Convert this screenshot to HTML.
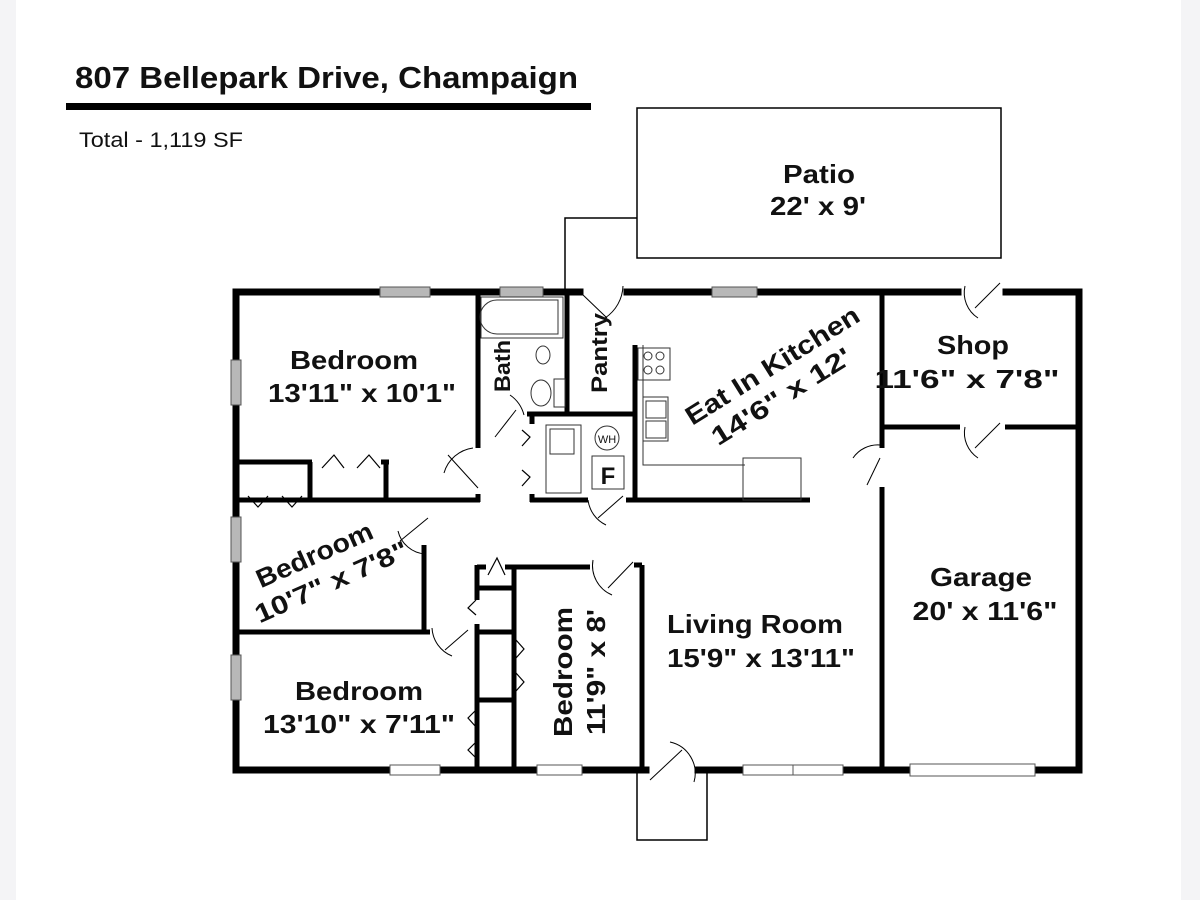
<!DOCTYPE html>
<html><head><meta charset="utf-8"><style>
html,body{margin:0;padding:0;background:#f4f4f6;}
svg{display:block;}
text{font-family:"Liberation Sans",Arial,sans-serif;font-weight:bold;fill:#111;}
</style></head><body>
<svg width="1200" height="900" viewBox="0 0 1200 900" xmlns="http://www.w3.org/2000/svg">
<rect x="0" y="0" width="1200" height="900" fill="#f4f4f6"/>
<rect x="16" y="0" width="1165" height="900" fill="#fff"/>
<text x="75" y="88" font-size="31" style="font-family:'Liberation Sans Narrow','Liberation Sans',sans-serif" textLength="503" lengthAdjust="spacingAndGlyphs">807 Bellepark Drive, Champaign</text>
<rect x="66" y="103" width="525" height="7" fill="#000"/>
<text x="79" y="147" font-size="21" style="font-weight:normal;font-family:'Liberation Sans Narrow','Liberation Sans',sans-serif" textLength="164" lengthAdjust="spacingAndGlyphs">Total - 1,119 SF</text>

<g fill="none" stroke="#000" stroke-width="1.5">
<rect x="637" y="108" width="364" height="150"/>
<polyline points="565,290 565,218 637,218"/>
<polyline points="637,772 637,840 707,840 707,772"/>
</g>

<g stroke="#000" stroke-width="7" fill="none" stroke-linecap="square">
<line x1="236" y1="292" x2="580" y2="292"/>
<line x1="627" y1="292" x2="958" y2="292"/>
<line x1="1006" y1="292" x2="1079" y2="292"/>
<line x1="236" y1="292" x2="236" y2="770"/>
<line x1="1079" y1="292" x2="1079" y2="770"/>
<line x1="236" y1="770" x2="646" y2="770"/>
<line x1="698" y1="770" x2="1079" y2="770"/>
</g>
<g stroke="#000" stroke-width="5" fill="none">
<line x1="478" y1="292" x2="478" y2="448"/>
<line x1="478" y1="494" x2="478" y2="502"/>
<line x1="238" y1="500" x2="480" y2="500"/>
<line x1="238" y1="462" x2="312" y2="462"/>
<line x1="310" y1="462" x2="310" y2="500"/>
<line x1="386" y1="460" x2="386" y2="500"/>
<line x1="381" y1="462" x2="389" y2="462"/>
<line x1="567" y1="292" x2="567" y2="414"/>
<line x1="527" y1="414" x2="636" y2="414"/>
<line x1="532" y1="414" x2="532" y2="424"/>
<line x1="532" y1="494" x2="532" y2="502"/>
<line x1="530" y1="500" x2="588" y2="500"/>
<line x1="626" y1="500" x2="810" y2="500"/>
<line x1="635" y1="345" x2="635" y2="500"/>
<line x1="882" y1="292" x2="882" y2="448"/>
<line x1="882" y1="487" x2="882" y2="770"/>
<line x1="882" y1="427" x2="960" y2="427"/>
<line x1="1005" y1="427" x2="1079" y2="427"/>
<line x1="424" y1="545" x2="424" y2="634"/>
<line x1="238" y1="632" x2="430" y2="632"/>
<line x1="477" y1="565" x2="477" y2="600"/>
<line x1="477" y1="624" x2="477" y2="770"/>
<line x1="514" y1="565" x2="514" y2="770"/>
<line x1="477" y1="567" x2="486" y2="567"/>
<line x1="505" y1="567" x2="590" y2="567"/>
<line x1="477" y1="588" x2="514" y2="588"/>
<line x1="477" y1="632" x2="514" y2="632"/>
<line x1="477" y1="700" x2="514" y2="700"/>
<line x1="634" y1="565" x2="642" y2="565"/>
<line x1="642" y1="565" x2="642" y2="770"/>
</g>
<g fill="#b8b8b8" stroke="#555" stroke-width="1">
<rect x="380" y="287" width="50" height="10"/>
<rect x="500" y="287" width="43" height="10"/>
<rect x="712" y="287" width="45" height="10"/>
<rect x="231" y="360" width="10" height="45"/>
<rect x="231" y="517" width="10" height="45"/>
<rect x="231" y="655" width="10" height="45"/>
</g>
<g fill="#fff" stroke="#555" stroke-width="1">
<rect x="390" y="765" width="50" height="10"/>
<rect x="537" y="765" width="45" height="10"/>
<rect x="743" y="765" width="50" height="10"/>
<rect x="793" y="765" width="50" height="10"/>
<rect x="910" y="764" width="125" height="12"/>
</g>
<g stroke="#000" stroke-width="1" fill="none">
<line x1="582" y1="294" x2="607" y2="318"/><path d="M605 318 A 40 40 0 0 0 623 286"/>
<line x1="1000" y1="283" x2="975" y2="308"/><path d="M965 286 A 30 30 0 0 0 978 318"/>
<line x1="1000" y1="423" x2="975" y2="448"/><path d="M965 427 A 30 30 0 0 0 978 458"/>
<line x1="880" y1="458" x2="867" y2="485"/><path d="M853 458 A 30 30 0 0 1 880 445"/>
<line x1="448" y1="455" x2="478" y2="488"/><path d="M444 473 A 35 35 0 0 1 473 448"/>
<line x1="516" y1="410" x2="495" y2="437"/><path d="M510 395 A 35 35 0 0 1 524 415"/>
<line x1="623" y1="496" x2="598" y2="518"/><path d="M588 500 A 32 32 0 0 0 606 525"/>
<line x1="428" y1="518" x2="400" y2="541"/><path d="M398 531 A 30 30 0 0 0 425 554"/>
<line x1="468" y1="630" x2="445" y2="650"/><path d="M432 628 A 32 32 0 0 0 452 656"/>
<line x1="633" y1="562" x2="608" y2="588"/><path d="M593 560 A 32 32 0 0 0 612 595"/>
<line x1="650" y1="780" x2="682" y2="750"/><path d="M670 742 A 32 32 0 0 1 694 782"/>
</g>
<g stroke="#000" stroke-width="1.2" fill="none">
<polyline points="322,468 334,455 344,468"/><polyline points="357,468 369,455 380,468"/>
<polyline points="248,496 258,507 268,496"/><polyline points="282,496 292,507 302,496"/>
<polyline points="522,430 530,437 522,446"/><polyline points="522,470 530,477 522,486"/>
<polyline points="488,575 497,558 505,575"/>
<polyline points="476,600 468,608 476,615"/>
<polyline points="516,640 524,649 516,658"/><polyline points="516,673 524,682 516,691"/>
<polyline points="476,710 468,718 476,727"/><polyline points="476,742 468,750 476,758"/>
</g>
<g stroke="#333" stroke-width="1" fill="none">
<rect x="481" y="297" width="82" height="41"/>
<path d="M497 300 H558 V334 H497 A17 17 0 0 1 497 300Z"/>
<ellipse cx="543" cy="355" rx="7" ry="9"/>
<ellipse cx="541" cy="393" rx="10" ry="13"/><rect x="554" y="379" width="11" height="28"/>
<polyline points="643,345 643,465 745,465"/>
<rect x="638" y="348" width="32" height="32"/>
<circle cx="648" cy="356" r="4"/><circle cx="660" cy="356" r="4"/><circle cx="648" cy="370" r="4"/><circle cx="660" cy="370" r="4"/>
<rect x="643" y="397" width="25" height="44"/><rect x="646" y="401" width="20" height="17"/><rect x="646" y="421" width="20" height="17"/>
<rect x="743" y="458" width="58" height="42"/>
<rect x="546" y="425" width="35" height="68"/><rect x="550" y="429" width="24" height="25"/>
<circle cx="607" cy="438" r="12"/><rect x="592" y="456" width="32" height="33"/>
</g>
<text x="607" y="443" font-size="11" text-anchor="middle" style="font-weight:normal">WH</text>
<text x="608" y="484" font-size="24" text-anchor="middle">F</text>

<g font-size="26" text-anchor="middle">
<text x="819" y="183" textLength="72" lengthAdjust="spacingAndGlyphs">Patio</text>
<text x="818" y="215" textLength="96" lengthAdjust="spacingAndGlyphs">22' x 9'</text>
<text x="354" y="369" textLength="128" lengthAdjust="spacingAndGlyphs">Bedroom</text>
<text x="362" y="402" textLength="188" lengthAdjust="spacingAndGlyphs">13'11" x 10'1"</text>
<text x="973" y="354" textLength="72" lengthAdjust="spacingAndGlyphs">Shop</text>
<text x="967" y="388" textLength="185" lengthAdjust="spacingAndGlyphs">11'6" x 7'8"</text>
<text x="981" y="586" textLength="102" lengthAdjust="spacingAndGlyphs">Garage</text>
<text x="985" y="620" textLength="145" lengthAdjust="spacingAndGlyphs">20' x 11'6"</text>
<text x="755" y="633" textLength="176" lengthAdjust="spacingAndGlyphs">Living Room</text>
<text x="761" y="667" textLength="188" lengthAdjust="spacingAndGlyphs">15'9" x 13'11"</text>
<text x="359" y="700" textLength="128" lengthAdjust="spacingAndGlyphs">Bedroom</text>
<text x="359" y="733" textLength="192" lengthAdjust="spacingAndGlyphs">13'10" x 7'11"</text>
<text transform="translate(510,366) rotate(-90)" font-size="22" textLength="52" lengthAdjust="spacingAndGlyphs">Bath</text>
<text transform="translate(607,353) rotate(-90)" font-size="22" textLength="80" lengthAdjust="spacingAndGlyphs">Pantry</text>
<text transform="translate(572,672) rotate(-90)" textLength="130" lengthAdjust="spacingAndGlyphs">Bedroom</text>
<text transform="translate(605,672) rotate(-90)" textLength="126" lengthAdjust="spacingAndGlyphs">11'9" x 8'</text>
<text transform="translate(777,373) rotate(-32)" textLength="200" lengthAdjust="spacingAndGlyphs">Eat In Kitchen</text>
<text transform="translate(786,404) rotate(-32)" textLength="160" lengthAdjust="spacingAndGlyphs">14'6" x 12'</text>
<text transform="translate(318,563) rotate(-24)" textLength="125" lengthAdjust="spacingAndGlyphs">Bedroom</text>
<text transform="translate(335,590) rotate(-24)" textLength="165" lengthAdjust="spacingAndGlyphs">10'7" x 7'8"</text>
</g>
</svg>
</body></html>
